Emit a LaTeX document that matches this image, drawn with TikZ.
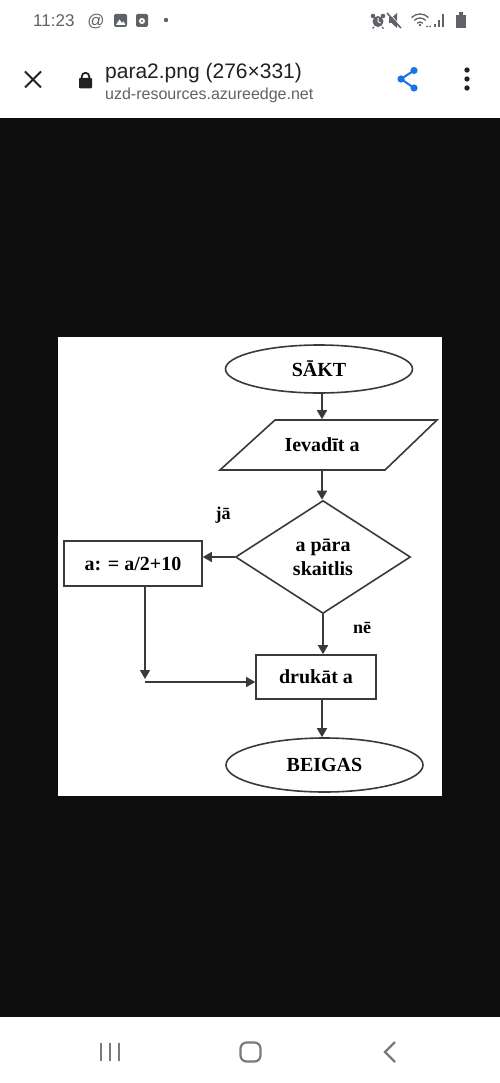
\documentclass[tikz,border=0pt]{standalone}
\usepackage{fontspec}
\setmainfont{Liberation Serif}
\newfontfamily\uifont{Liberation Sans}
\usetikzlibrary{shapes.geometric,arrows.meta}
\definecolor{bgblack}{HTML}{0E0E0E}
\definecolor{uigray}{HTML}{5F6368}
\definecolor{uidark}{HTML}{202124}
\definecolor{shareblue}{HTML}{1A73E8}
\definecolor{navgray}{HTML}{7A7A7A}
\definecolor{lineclr}{HTML}{3A3A3A}
\begin{document}
\begin{tikzpicture}[x=1pt,y=-1pt,
  fc/.style={draw=lineclr, line width=1.6pt, fill=white, font=\fontsize{20}{24}\selectfont\bfseries, text=black, inner sep=0pt},
  arr/.style={draw=lineclr, line width=1.6pt, -{Triangle[length=9pt,width=10pt]}},
  lbl/.style={font=\fontsize{18}{20}\selectfont\bfseries, inner sep=0pt, text=black},
  uitext/.style={font=\uifont, inner sep=0pt},
  ]
\useasboundingbox (0,0) rectangle (500,1083);
% backgrounds
\fill[white] (0,0) rectangle (500,118);
\fill[bgblack] (0,118) rectangle (500,1017);
\fill[white] (0,1017) rectangle (500,1083);
\fill[white] (58,337) rectangle (442,796);

% status bar
\node[uitext, anchor=base west, text=uigray, font=\uifont\fontsize{17}{20}\selectfont] (time) at (33,27) {11:23};
\node[uitext, anchor=base, text=uigray, font=\uifont\fontsize{17}{20}\selectfont] (atsign) at (96,27) {@};
\fill[uigray, rounded corners=1.5pt] (114,14) rectangle (127,27);
\fill[white] (116,25) -- (119.5,19.5) -- (122,23) -- (123.5,21.5) -- (125.5,25) -- cycle;
\fill[uigray, rounded corners=1.5pt] (136,14) rectangle (148,27);
\fill[white] (142,21) circle (3pt);
\fill[uigray] (142,21) circle (1.2pt);
\fill[uigray] (166,20) circle (2.2pt);
% right status icons
\fill[uigray] (373,16) circle (2.3pt);
\fill[uigray] (383,16) circle (2.3pt);
\fill[uigray] (378,21.5) circle (5.5pt);
\draw[white, line width=1pt] (378,18) -- (378,21.5) -- (380.5,23);
\draw[uigray, line width=1.4pt] (374,27) -- (372.5,28.5);
\draw[uigray, line width=1.4pt] (382,27) -- (383.5,28.5);
\fill[uigray] (389,17.5) rectangle (392,23.5);
\fill[uigray] (392,17.5) -- (397,13) -- (397,28) -- (392,23.5) -- cycle;
\draw[uigray, line width=1.6pt] (387,13) -- (401,28);
\draw[white, line width=0.6pt] (388.5,12.5) -- (402.5,27.5);
\draw[uigray, line width=1.3pt] (420,26) ++(225:12) arc (225:315:12);
\draw[uigray, line width=1.3pt] (420,26) ++(225:8) arc (225:315:8);
\draw[uigray, line width=1.3pt] (420,26) ++(225:4) arc (225:315:4);
\fill[uigray] (420,25) circle (1.3pt);
\fill[uigray] (427,26.5) circle (1pt);
\fill[uigray] (430,26.5) circle (1pt);
\fill[uigray] (434,24) rectangle (436,27.5);
\fill[uigray] (438,20) rectangle (440,27.5);
\fill[uigray] (442,14) rectangle (444,27.5);
\fill[uigray] (459,12.5) rectangle (463,15);
\fill[uigray] (456,15) rectangle (466,28);

% header
\draw[uidark, line width=2pt] (25,71.5) -- (41,87.5);
\draw[uidark, line width=2pt] (41,71.5) -- (25,87.5);
\fill[uidark, rounded corners=1pt] (79,78) rectangle (92,88.5);
\draw[uidark, line width=1.8pt] (81.8,79) -- (81.8,76.5) arc (180:360:3.7) -- (89.2,79);
\node[uitext, anchor=base west, text=uidark, font=\uifont\fontsize{21}{24}\selectfont] (title) at (105,79) {para2.png (276×331)};
\node[uitext, anchor=base west, text=uigray, font=\uifont\fontsize{16}{19}\selectfont] (subtitle) at (105,100) {uzd-resources.azureedge.net};
\draw[shareblue, line width=2pt] (414,70.5) -- (401,79) -- (414,88);
\fill[shareblue] (401,79) circle (3.6pt);
\fill[shareblue] (414,70.5) circle (3.6pt);
\fill[shareblue] (414,88) circle (3.6pt);
\fill[uidark] (467,70) circle (2.7pt);
\fill[uidark] (467,79) circle (2.7pt);
\fill[uidark] (467,88) circle (2.7pt);

% navigation bar
\draw[navgray, line width=2.2pt] (101,1043) -- (101,1061);
\draw[navgray, line width=2.2pt] (110,1043) -- (110,1061);
\draw[navgray, line width=2.2pt] (119,1043) -- (119,1061);
\draw[navgray, line width=2.2pt, rounded corners=6pt] (240.5,1042.5) rectangle (260.5,1061.5);
\draw[navgray, line width=2.2pt] (395,1042) -- (385,1052) -- (395,1062);

% flowchart
\draw[lineclr, line width=1.6pt, fill=white] (275,420) -- (437,420) -- (385,470) -- (220,470) -- cycle;
\node[fc, ellipse, minimum width=187, minimum height=48] (sakt) at (319,369) {SĀKT};
\node[fc, draw=none, fill=none, minimum height=50] (ievad) at (322,445) {Ievadīt a};
\node[fc, diamond, aspect=1.55, minimum width=175, minimum height=113, align=center] (dia) at (323,557) {a pāra\\skaitlis};
\node[fc, minimum width=138, minimum height=45] (boxa) at (133,563.5) {a: = a/2+10};
\node[fc, minimum width=120, minimum height=44] (druk) at (316,677) {drukāt a};
\node[fc, ellipse, minimum width=197, minimum height=54] (beig) at (324.5,765) {BEIGAS};
\node[lbl] (ja) at (223,515) {jā};
\node[lbl] (ne) at (362,628) {nē};
\coordinate (jt) at (145,679);
\coordinate (j) at (145,682);

\draw[arr] (sakt.south -| ievad.north) -- (ievad.north);
\draw[arr] (ievad.south) -- (ievad.south |- dia.north);
\draw[arr] (dia.west) -- (dia.west -| boxa.east);
\draw[arr] (dia.south) -- (dia.south |- druk.north);
\draw[arr] (boxa.south -| jt) -- (jt);
\draw[arr] (j) -- (j -| druk.west);
\draw[arr] (druk.south -| ievad.south) -- (beig.north -| ievad.south);
\end{tikzpicture}
\end{document}
